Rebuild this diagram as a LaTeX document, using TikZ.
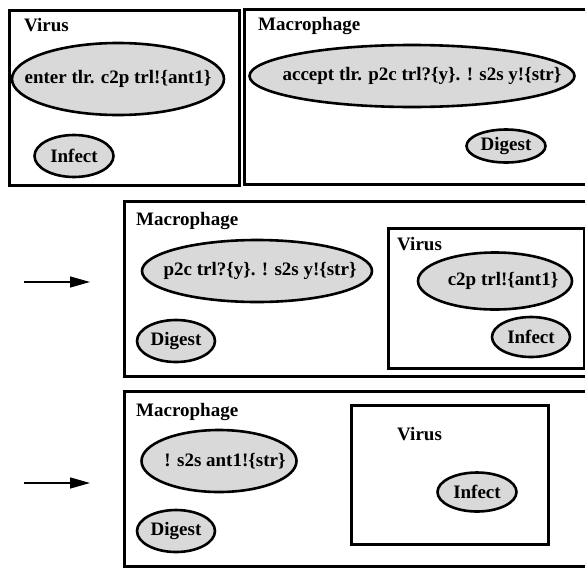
\documentclass[tikz,border=0pt]{standalone}
\usepackage{fontspec}
\setmainfont{Liberation Serif}
\usetikzlibrary{shapes.geometric,arrows.meta}
\definecolor{cellfill}{RGB}{217,217,217}
\tikzset{
  every node/.style={font=\fontsize{19}{22}\selectfont\bfseries},
  frame/.style={draw, line width=3pt, inner sep=0pt, anchor=north west},
  title/.style={anchor=base west, inner sep=0pt},
  proc/.style={ellipse, draw, line width=2.6pt, fill=cellfill, inner sep=0pt},
  txt/.style={inner sep=0pt},
  step arrow/.style={line width=1.4pt, -{Triangle[length=20pt,width=11pt]}}
}
\begin{document}
\begin{tikzpicture}[x=1pt,y=-1pt]
\useasboundingbox (0,0) rectangle (585,568);
\clip (0,0) rectangle (585,568);
\fill[white] (0,0) rectangle (585,568);

% ---- initial state: virus and macrophage side by side ----
\node[frame, minimum width=230pt, minimum height=175pt] (virA) at (8,9) {};
\node[title] (virAt) at (24,31) {Virus};
\node[proc, minimum width=212pt, minimum height=72pt] (enterA) at (118,79) {};
\node[txt] (enterAt) at (118,79) {enter tlr. c2p trl!\{ant1\}};
\node[proc, minimum width=79pt, minimum height=42pt] (infA) at (74,156) {};
\node[txt] (infAt) at (74,156) {Infect};

\node[frame, minimum width=360pt, minimum height=175pt] (macA) at (243,8) {};
\node[title] (macAt) at (258,30) {Macrophage};
\node[proc, minimum width=325pt, minimum height=62pt] (accA) at (412,76) {};
\node[txt] (accAt) at (422,76) {accept tlr. p2c trl?\{y\}. ! s2s y!\{str\}};
\node[proc, minimum width=79pt, minimum height=33pt] (digA) at (506,146) {};
\node[txt] (digAt) at (506,146) {Digest};

% ---- second state: virus inside the macrophage ----
\coordinate (arB1) at (24,282);
\coordinate (arB2) at (90,282);
\draw[step arrow] (arB1) -- (arB2);

\node[frame, minimum width=480pt, minimum height=175pt] (macB) at (123,200) {};
\node[title] (macBt) at (136,225) {Macrophage};
\node[proc, minimum width=230pt, minimum height=62pt] (p2cB) at (257,271) {};
\node[txt] (p2cBt) at (260,271) {p2c trl?\{y\}. ! s2s y!\{str\}};
\node[proc, minimum width=78pt, minimum height=42pt] (digB) at (176,341) {};
\node[txt] (digBt) at (176,341) {Digest};

\node[frame, minimum width=196pt, minimum height=140pt] (virB) at (387,227) {};
\node[title] (virBt) at (397,250) {Virus};
\node[proc, minimum width=154pt, minimum height=57pt] (c2pB) at (495,281) {};
\node[txt] (c2pBt) at (503,281) {c2p trl!\{ant1\}};
\node[proc, minimum width=78pt, minimum height=40pt] (infB) at (531,337) {};
\node[txt] (infBt) at (531,337) {Infect};

% ---- third state: antigen presented ----
\coordinate (arC1) at (24,483);
\coordinate (arC2) at (90,483);
\draw[step arrow] (arC1) -- (arC2);

\node[frame, minimum width=480pt, minimum height=175pt] (macC) at (123,390) {};
\node[title] (macCt) at (136,416) {Macrophage};
\node[proc, minimum width=155pt, minimum height=62pt] (s2sC) at (219,461) {};
\node[txt] (s2sCt) at (225,461) {! s2s ant1!\{str\}};
\node[proc, minimum width=78pt, minimum height=42pt] (digC) at (176,531) {};
\node[txt] (digCt) at (176,531) {Digest};

\node[frame, minimum width=197pt, minimum height=139pt] (virC) at (350,404) {};
\node[title] (virCt) at (397,440) {Virus};
\node[proc, minimum width=79pt, minimum height=39pt] (infC) at (477,492) {};
\node[txt] (infCt) at (477,492) {Infect};
\end{tikzpicture}
\end{document}
